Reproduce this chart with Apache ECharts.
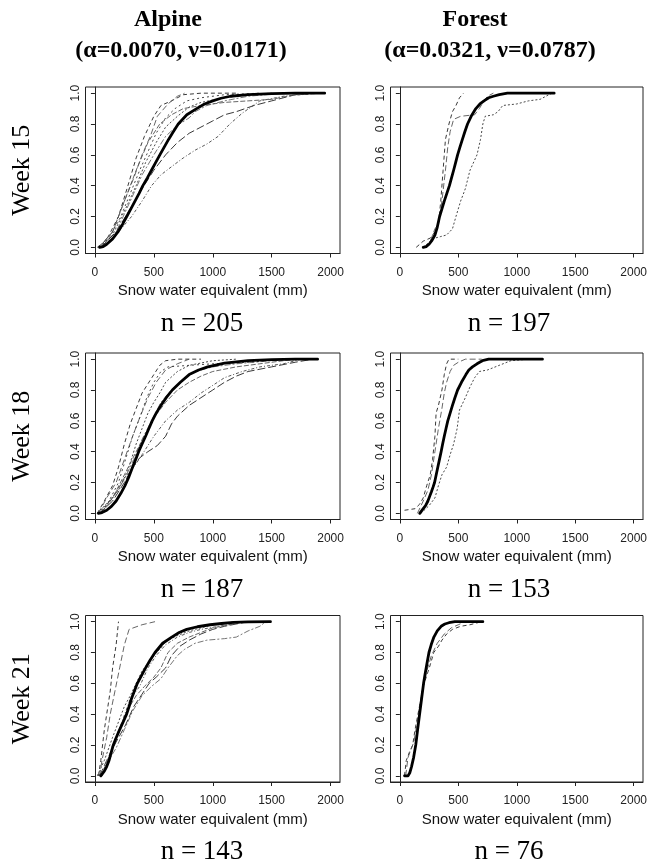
<!DOCTYPE html>
<html>
<head>
<meta charset="utf-8">
<script src="https://cdn.jsdelivr.net/npm/echarts@6/dist/echarts.min.js"></script>
<style>html,body{margin:0;padding:0;background:#fff}#c{width:650px;height:865px}</style>
</head>
<body>
<div id="c"></div>
<script>
// ---------- data ----------
const colTitles = ['Alpine', 'Forest'];
const colParams = ['(\u03b1=0.0070, \u03bd=0.0171)', '(\u03b1=0.0321, \u03bd=0.0787)'];
const rowLabels = ['Week 15', 'Week 18', 'Week 21'];
const nLabels = [['n = 205', 'n = 197'], ['n = 187', 'n = 153'], ['n = 143', 'n = 76']];
const xTicks = [0, 500, 1000, 1500, 2000];
const yTicks = [0, 0.2, 0.4, 0.6, 0.8, 1.0];
const xLabel = 'Snow water equivalent (mm)';

// Alpine, week 15
const alpineW15Fit = [[40,0],[70,0.005],[100,0.02],[150,0.055],[195,0.1],[235,0.15],[270,0.2],[305,0.25],[340,0.3],[375,0.35],[407,0.4],[445,0.45],[480,0.5],[515,0.55],[551,0.6],[588,0.65],[625,0.7],[665,0.75],[707,0.8],[780,0.86],[863,0.9],[930,0.93],[1000,0.95],[1070,0.967],[1150,0.98],[1300,0.99],[1500,0.997],[1700,1.0],[1950,1.0]];
const alpineW15Obs = [
  [[20,0],[100,0.05],[200,0.2],[280,0.4],[350,0.58],[420,0.72],[500,0.85],[560,0.92],[650,0.95],[750,0.99],[900,1.0],[1200,1.0]],
  [[30,0],[150,0.1],[250,0.3],[330,0.45],[400,0.6],[470,0.72],[530,0.85],[620,0.93],[700,0.98],[760,1.0]],
  [[40,0],[150,0.08],[260,0.25],[350,0.4],[430,0.55],[520,0.68],[600,0.78],[700,0.85],[800,0.91],[900,0.94],[1100,0.97],[1300,0.99],[1500,1.0]],
  [[50,0],[180,0.1],[300,0.3],[400,0.47],[500,0.6],[600,0.72],[700,0.79],[800,0.84],[850,0.88],[950,0.92],[1100,0.95],[1300,0.98],[1600,1.0]],
  [[50,0],[180,0.1],[300,0.25],[400,0.38],[500,0.5],[600,0.6],[700,0.68],[800,0.74],[900,0.78],[1000,0.82],[1100,0.86],[1200,0.88],[1350,0.92],[1500,0.95],[1700,0.99],[1930,1.0]],
  [[60,0],[200,0.1],[311,0.2],[400,0.3],[481,0.4],[560,0.47],[662,0.53],[750,0.58],[850,0.63],[950,0.67],[1046,0.72],[1145,0.8],[1250,0.87],[1400,0.95],[1600,0.98],[1900,1.0]],
  [[40,0],[150,0.1],[250,0.3],[350,0.5],[450,0.68],[550,0.8],[650,0.86],[750,0.9],[900,0.92],[1100,0.94],[1300,0.95],[1500,0.96],[1700,0.99],[1800,1.0]],
  [[30,0],[120,0.06],[220,0.2],[300,0.35],[380,0.5],[450,0.62],[520,0.74],[600,0.84],[680,0.9],[780,0.95],[900,0.97],[1100,0.99],[1400,1.0]]
];
// Forest, week 15
const forestW15Fit = [[200,0],[225,0.005],[250,0.02],[275,0.045],[300,0.08],[320,0.13],[340,0.2],[360,0.25],[380,0.3],[402,0.35],[424,0.4],[442,0.45],[460,0.5],[477,0.55],[494,0.6],[514,0.65],[535,0.7],[556,0.75],[579,0.8],[610,0.85],[650,0.9],[685,0.93],[720,0.95],[760,0.97],[800,0.98],[850,0.99],[920,1.0],[1320,1.0]];
const forestW15Obs = [
  [[140,0],[200,0.04],[260,0.06],[300,0.1],[330,0.15],[350,0.3],[370,0.5],[390,0.7],[420,0.8],[450,0.88],[480,0.92],[510,0.97],[545,1.0]],
  [[210,0],[260,0.04],[300,0.12],[330,0.15],[360,0.3],[390,0.5],[410,0.65],[430,0.75],[460,0.83],[520,0.85],[640,0.86],[680,0.9],[720,0.95],[750,0.98],[800,1.0]],
  [[200,0],[260,0.04],[300,0.06],[350,0.07],[400,0.08],[450,0.12],[480,0.2],[520,0.3],[560,0.38],[600,0.5],[660,0.6],[690,0.7],[710,0.8],[730,0.85],[800,0.86],[840,0.88],[880,0.92],[1000,0.93],[1100,0.95],[1200,0.96],[1300,1.0]]
];
// Alpine, week 18
const alpineW18Fit = [[30,0],[60,0.005],[100,0.02],[140,0.045],[180,0.08],[220,0.13],[255,0.18],[290,0.24],[320,0.3],[346,0.35],[371,0.4],[400,0.45],[430,0.5],[458,0.55],[486,0.6],[520,0.65],[560,0.7],[605,0.75],[657,0.8],[725,0.85],[800,0.9],[880,0.93],[957,0.95],[1100,0.975],[1300,0.99],[1500,0.997],[1700,1.0],[1890,1.0]];
const alpineW18Obs = [
  [[20,0],[80,0.08],[150,0.18],[200,0.3],[250,0.45],[300,0.58],[350,0.68],[400,0.78],[450,0.84],[500,0.9],[550,0.96],[600,0.99],[700,1.0],[900,1.0]],
  [[30,0],[100,0.1],[180,0.2],[250,0.35],[320,0.5],[380,0.62],[450,0.75],[520,0.85],[600,0.93],[700,0.97],[800,1.0]],
  [[20,0],[120,0.08],[200,0.15],[280,0.28],[350,0.45],[400,0.55],[450,0.65],[500,0.72],[550,0.78],[600,0.85],[700,0.92],[800,0.96],[1000,0.99],[1200,1.0]],
  [[40,0],[150,0.1],[250,0.22],[330,0.35],[400,0.48],[480,0.6],[560,0.72],[650,0.8],[750,0.87],[850,0.92],[1000,0.95],[1200,0.97],[1500,0.99],[1800,1.0]],
  [[40,0],[150,0.08],[250,0.2],[320,0.3],[380,0.36],[450,0.4],[530,0.44],[600,0.5],[650,0.58],[700,0.63],[800,0.7],[900,0.75],[1000,0.8],[1100,0.85],[1200,0.89],[1300,0.92],[1500,0.95],[1700,0.98],[1850,1.0]],
  [[30,0],[150,0.1],[250,0.23],[330,0.3],[400,0.38],[500,0.5],[600,0.6],[700,0.67],[800,0.72],[900,0.78],[1000,0.83],[1100,0.88],[1250,0.92],[1400,0.95],[1600,0.97],[1750,1.0]],
  [[60,0],[150,0.1],[250,0.25],[350,0.4],[420,0.5],[500,0.62],[600,0.72],[700,0.8],[800,0.85],[900,0.89],[1000,0.92],[1200,0.95],[1400,0.97],[1600,0.99],[1700,1.0]],
  [[20,0],[100,0.05],[200,0.2],[260,0.35],[320,0.5],[380,0.62],[440,0.75],[500,0.85],[560,0.92],[620,0.95],[800,0.96],[1000,0.97],[1300,0.98],[1600,1.0]]
];
// Forest, week 18
const forestW18Fit = [[170,0],[185,0.012],[200,0.03],[220,0.05],[240,0.08],[255,0.11],[270,0.14],[284,0.17],[297,0.2],[311,0.25],[325,0.3],[339,0.35],[353,0.4],[366,0.45],[380,0.5],[395,0.55],[410,0.6],[430,0.65],[450,0.7],[471,0.75],[494,0.8],[527,0.85],[565,0.9],[590,0.93],[621,0.95],[660,0.97],[706,0.99],[760,1.0],[1220,1.0]];
const forestW18Obs = [
  [[40,0.02],[130,0.03],[170,0.06],[200,0.1],[230,0.18],[260,0.25],[280,0.35],[300,0.5],[310,0.65],[330,0.7],[360,0.8],[380,0.9],[400,0.97],[420,1.0],[500,1.0]],
  [[150,0],[200,0.08],[240,0.15],[270,0.25],[300,0.4],[330,0.55],[360,0.68],[380,0.78],[400,0.85],[430,0.92],[460,0.96],[500,0.98],[560,1.0],[700,1.0]],
  [[180,0],[250,0.05],[300,0.1],[330,0.18],[360,0.25],[400,0.3],[430,0.38],[460,0.45],[490,0.55],[510,0.67],[560,0.75],[600,0.82],[640,0.88],[680,0.92],[750,0.93],[850,0.96],[950,0.99],[1100,1.0]]
];
// Alpine, week 21
const alpineW21Fit = [[50,0],[65,0.012],[80,0.03],[100,0.06],[120,0.1],[138,0.15],[156,0.2],[182,0.25],[210,0.3],[240,0.35],[269,0.4],[290,0.45],[310,0.5],[335,0.55],[360,0.6],[395,0.65],[430,0.7],[468,0.75],[510,0.8],[575,0.86],[652,0.9],[715,0.93],[779,0.95],[870,0.967],[977,0.98],[1075,0.988],[1175,0.995],[1300,0.999],[1490,1.0]];
const alpineW21Obs = [
  [[30,0],[50,0.1],[80,0.3],[110,0.45],[130,0.55],[150,0.7],[180,0.85],[200,1.0]],
  [[40,0],[60,0.1],[100,0.25],[130,0.4],[170,0.55],[210,0.7],[250,0.85],[290,0.95],[400,0.98],[510,1.0]],
  [[20,0],[80,0.1],[150,0.25],[200,0.35],[250,0.45],[300,0.52],[350,0.6],[400,0.68],[450,0.73],[500,0.78],[560,0.83],[600,0.87],[700,0.91],[800,0.94],[900,0.96],[1000,0.98],[1200,1.0]],
  [[60,0],[100,0.08],[180,0.18],[250,0.3],[320,0.42],[400,0.52],[480,0.58],[560,0.63],[620,0.7],[700,0.78],[760,0.82],[850,0.86],[950,0.88],[1100,0.89],[1200,0.9],[1300,0.94],[1400,0.97],[1450,1.0]],
  [[40,0],[100,0.1],[180,0.22],[260,0.33],[330,0.45],[400,0.53],[460,0.6],[520,0.64],[600,0.7],[650,0.78],[720,0.84],[800,0.88],[900,0.92],[1000,0.95],[1100,0.97],[1300,1.0]],
  [[30,0],[90,0.05],[150,0.2],[230,0.35],[300,0.5],[380,0.58],[450,0.7],[520,0.78],[600,0.85],[700,0.9],[800,0.93],[900,0.95],[1050,0.97],[1200,0.99],[1300,1.0]],
  [[50,0],[120,0.12],[200,0.28],[280,0.43],[350,0.52],[420,0.58],[500,0.64],[560,0.7],[620,0.8],[700,0.86],[800,0.9],[900,0.93],[1000,0.96],[1150,0.98],[1250,1.0]]
];
// Forest, week 21
const forestW21Fit = [[40,0],[70,0.0],[85,0.02],[100,0.06],[118,0.12],[136,0.2],[152,0.3],[169,0.4],[186,0.5],[203,0.6],[216,0.66],[230,0.72],[249,0.8],[268,0.85],[291,0.9],[320,0.94],[353,0.97],[385,0.985],[420,0.993],[470,1.0],[710,1.0]];
const forestW21Obs = [
  [[40,0.0],[55,0.1],[80,0.15],[110,0.2],[130,0.3],[150,0.38],[180,0.5],[200,0.58],[230,0.65],[260,0.72],[290,0.8],[330,0.84],[360,0.88],[400,0.92],[450,0.95],[520,0.97],[600,0.98],[700,1.0]],
  [[50,0],[70,0.12],[120,0.22],[160,0.4],[190,0.55],[230,0.68],[270,0.78],[320,0.86],[380,0.92],[440,0.96],[500,0.98],[560,1.0]]
];

// ---------- layout ----------
const panels = [
  {fit: alpineW15Fit, obs: alpineW15Obs}, {fit: forestW15Fit, obs: forestW15Obs},
  {fit: alpineW18Fit, obs: alpineW18Obs}, {fit: forestW18Fit, obs: forestW18Obs},
  {fit: alpineW21Fit, obs: alpineW21Obs}, {fit: forestW21Fit, obs: forestW21Obs}
];
const colLeft = [85.5, 390.5];
const colWidth = [254.5, 256];
const rowTop = [87, 353, 615.5];
const boxH = 166.5;
const dashes = [[4,3],[6,3],[2,2],[6,2,2,2],[8,3],[3,2,1,2],[5,2],[2,3]];
const lineColors = ['#222','#555','#333','#666','#222','#444','#555','#333'];

const grids = [], xAxes = [], yAxes = [], series = [];
panels.forEach((p, i) => {
  const r = Math.floor(i / 2), c = i % 2;
  grids.push({left: colLeft[c], top: rowTop[r], width: colWidth[c], height: boxH,
    show: true, borderColor: '#222', borderWidth: 1, backgroundColor: 'transparent'});
  xAxes.push({type: 'value', gridIndex: i, min: -80, max: 2080,
    name: xLabel, nameLocation: 'middle', nameGap: 30,
    nameTextStyle: {fontFamily: 'Liberation Sans', fontSize: 15, color: '#111'},
    axisLine: {show: true, onZero: false, lineStyle: {color: '#222', width: 1}},
    axisTick: {show: true, length: 4, customValues: xTicks, lineStyle: {color: '#222'}},
    axisLabel: {customValues: xTicks, margin: 13, fontFamily: 'Liberation Sans', fontSize: 12, color: '#222',
      formatter: v => String(Math.round(v))},
    splitLine: {show: false}});
  yAxes.push({type: 'value', gridIndex: i, min: -0.04, max: 1.04,
    axisLine: {show: true, lineStyle: {color: '#222', width: 1}},
    axisTick: {show: true, length: 4, customValues: yTicks, lineStyle: {color: '#222'}},
    axisLabel: {customValues: yTicks, rotate: 90, margin: 4, fontFamily: 'Liberation Sans', fontSize: 12, color: '#222',
      formatter: v => v.toFixed(1)},
    splitLine: {show: false}});
  p.obs.forEach((d, k) => {
    series.push({type: 'line', xAxisIndex: i, yAxisIndex: i, data: d, showSymbol: false, silent: true,
      lineStyle: {color: lineColors[k % lineColors.length], width: 0.9, type: dashes[k % dashes.length]}, z: 2});
  });
  series.push({type: 'line', xAxisIndex: i, yAxisIndex: i, data: p.fit, showSymbol: false, silent: true,
    lineStyle: {color: '#000', width: 2.8, join: 'round', cap: 'round'}, z: 3});
});

const graphics = [];
const titleX = [168, 475], paramX = [181, 490];
colTitles.forEach((t, c) => {
  graphics.push({type: 'text', x: titleX[c], y: 20, style: {text: t, textAlign: 'center', textVerticalAlign: 'middle',
    font: 'bold 24px "Liberation Serif"', fill: '#000'}});
  graphics.push({type: 'text', x: paramX[c], y: 51, style: {text: colParams[c], textAlign: 'center', textVerticalAlign: 'middle',
    font: 'bold 24px "Liberation Serif"', fill: '#000'}});
});
rowLabels.forEach((t, r) => {
  graphics.push({type: 'text', x: 22, y: rowTop[r] + boxH / 2, rotation: Math.PI / 2,
    style: {text: t, textAlign: 'center', textVerticalAlign: 'middle', font: '26px "Liberation Serif"', fill: '#000'}});
  nLabels[r].forEach((t2, c) => {
    graphics.push({type: 'text', x: [202, 509][c], y: rowTop[r] + boxH + 70,
      style: {text: t2, textAlign: 'center', textVerticalAlign: 'middle', font: '27px "Liberation Serif"', fill: '#000'}});
  });
});

const chart = echarts.init(document.getElementById('c'), null, {renderer: 'canvas'});
chart.setOption({animation: false, backgroundColor: '#fff', grid: grids, xAxis: xAxes, yAxis: yAxes, series: series, graphic: graphics});
</script>
</body>
</html>
